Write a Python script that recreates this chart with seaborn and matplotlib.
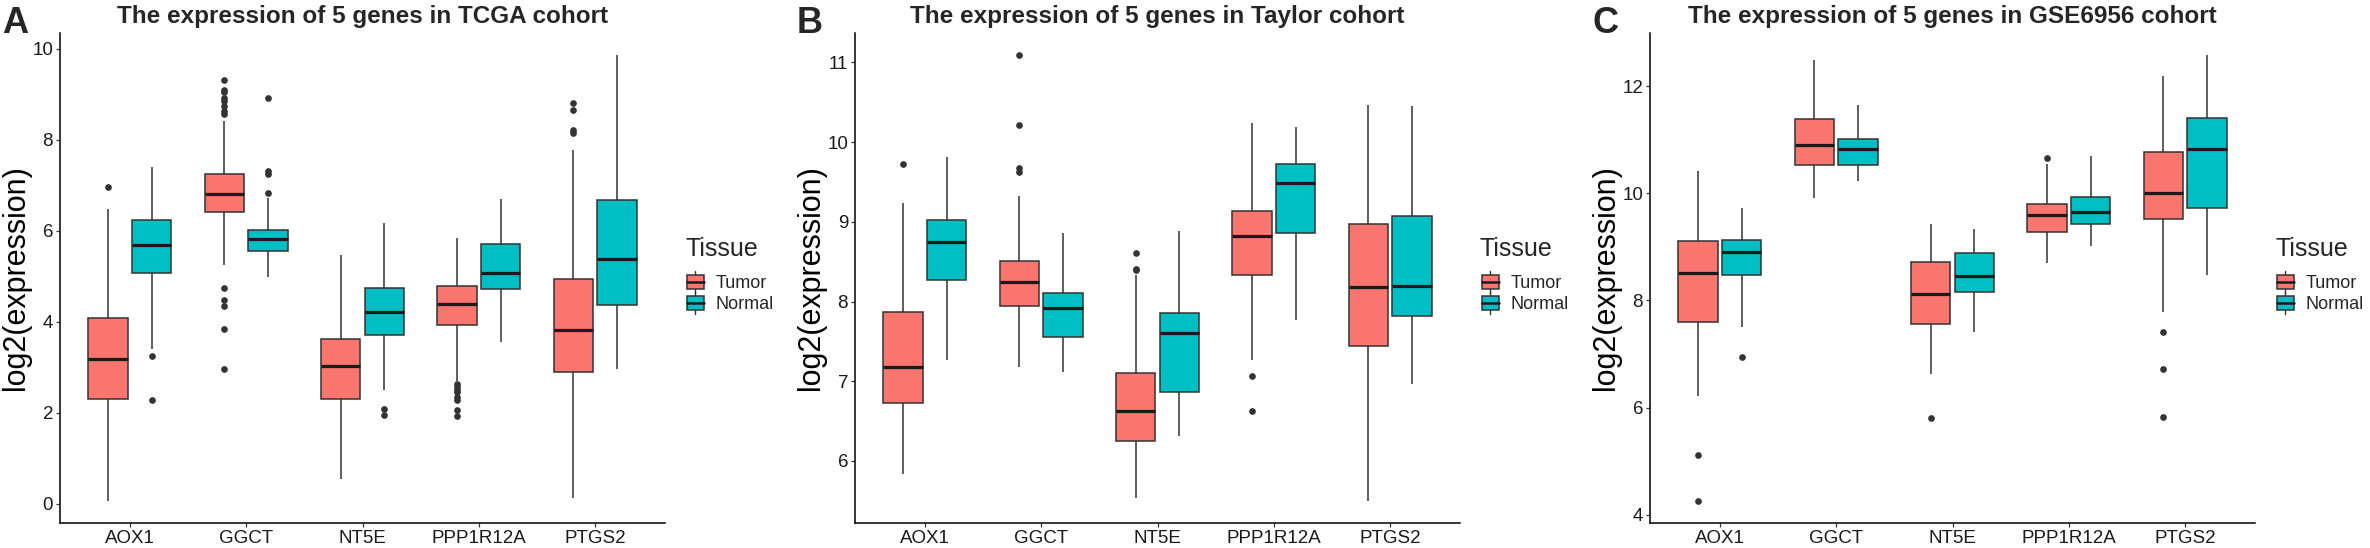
import numpy as np
import pandas as pd
import matplotlib
matplotlib.use("Agg")
import matplotlib.pyplot as plt
import seaborn as sns
from matplotlib.legend_handler import HandlerBase
from matplotlib.patches import Rectangle, Patch
from matplotlib.lines import Line2D

## Datos: [bigote inf, Q1, mediana, Q3, bigote sup] por gen

genes = ["AOX1", "GGCT", "NT5E", "PPP1R12A", "PTGS2"]
tissues = ["Tumor", "Normal"]
colors = ["#F8766D", "#00BFC4"]

titles = ["The expression of 5 genes in TCGA cohort",
          "The expression of 5 genes in Taylor cohort",
          "The expression of 5 genes in GSE6956 cohort"]
letters = ["A", "B", "C"]

tcga_tumor = [[0.07, 2.30, 3.18, 4.09, 6.48],
              [5.25, 6.41, 6.81, 7.24, 8.42],
              [0.54, 2.31, 3.03, 3.63, 5.47],
              [2.71, 3.94, 4.40, 4.79, 5.84],
              [0.14, 2.90, 3.82, 4.95, 7.77]]
tcga_tumor_out = [[6.97],
                  [9.31, 9.09, 9.05, 8.91, 8.85, 8.74, 8.63, 8.56, 4.74, 4.49, 4.35, 3.84, 2.96],
                  [],
                  [2.64, 2.58, 2.51, 2.45, 2.36, 2.29, 2.06, 1.93],
                  [8.82, 8.65, 8.21, 8.16]]
tcga_normal = [[3.40, 5.07, 5.68, 6.23, 7.40],
               [4.99, 5.55, 5.82, 6.03, 6.72],
               [2.51, 3.72, 4.22, 4.75, 6.18],
               [3.56, 4.72, 5.08, 5.72, 6.70],
               [2.96, 4.38, 5.39, 6.69, 9.86]]
tcga_normal_out = [[3.25, 2.29],
                   [6.83, 7.25, 7.32, 8.91],
                   [2.09, 1.95],
                   [],
                   []]

taylor_tumor = [[5.84, 6.73, 7.18, 7.87, 9.23],
                [7.18, 7.94, 8.24, 8.51, 9.33],
                [5.54, 6.25, 6.62, 7.10, 8.33],
                [7.26, 8.33, 8.82, 9.14, 10.24],
                [5.50, 7.44, 8.18, 8.97, 10.46]]
taylor_tumor_out = [[9.72],
                    [11.09, 10.22, 9.68, 9.63],
                    [8.61, 8.41, 8.39],
                    [7.06, 6.62],
                    []]
taylor_normal = [[7.27, 8.27, 8.75, 9.02, 9.81],
                 [7.12, 7.56, 7.92, 8.11, 8.86],
                 [6.31, 6.86, 7.60, 7.85, 8.89],
                 [7.77, 8.86, 9.49, 9.73, 10.19],
                 [6.97, 7.82, 8.19, 9.07, 10.45]]
taylor_normal_out = [[], [], [], [], []]

gse_tumor = [[6.22, 7.59, 8.51, 9.11, 10.41],
             [9.92, 10.53, 10.91, 11.39, 12.50],
             [6.63, 7.57, 8.12, 8.71, 9.43],
             [8.70, 9.28, 9.59, 9.80, 10.54],
             [7.79, 9.52, 10.01, 10.77, 12.20]]
gse_tumor_out = [[5.11, 4.26], [], [5.80], [10.66], [7.41, 6.72, 5.83]]
gse_normal = [[7.51, 8.47, 8.91, 9.13, 9.72],
              [10.23, 10.53, 10.83, 11.02, 11.65],
              [7.41, 8.16, 8.45, 8.89, 9.33],
              [9.02, 9.43, 9.66, 9.94, 10.69],
              [8.47, 9.72, 10.83, 11.40, 12.58]]
gse_normal_out = [[6.95], [], [], [], []]

yticks = [[0, 2, 4, 6, 8, 10], [6, 7, 8, 9, 10, 11], [4, 6, 8, 10, 12]]

cohorts = [(tcga_tumor, tcga_tumor_out, tcga_normal, tcga_normal_out),
           (taylor_tumor, taylor_tumor_out, taylor_normal, taylor_normal_out),
           (gse_tumor, gse_tumor_out, gse_normal, gse_normal_out)]

## Tabla larga para seaborn: cada resumen se expande en puntos que reproducen
## los cuartiles leídos (Q1, mediana y Q3 repetidos)

REP = 60

def expand(stats, outs):
    lo, q1, med, q3, hi = stats
    return [lo] + [q1] * REP + [med] * REP + [q3] * REP + [hi] + list(outs)

def build_df(tumor, tumor_out, normal, normal_out):
    rows = []
    for tissue, stats, outs in [("Tumor", tumor, tumor_out), ("Normal", normal, normal_out)]:
        for gene, s, o in zip(genes, stats, outs):
            for v in expand(s, o):
                rows.append((gene, tissue, v))
    return pd.DataFrame(rows, columns=["gene", "Tissue", "value"])

## Leyenda con un pequeño boxplot como clave

class BoxKey(HandlerBase):
    def create_artists(self, legend, orig_handle, xdescent, ydescent, width, height, fontsize, trans):
        x0, y0 = -xdescent, -ydescent
        cx = x0 + width / 2
        whisk = Line2D([cx, cx], [y0 - 0.12 * height, y0 + 1.12 * height], color="#333333", lw=1.0, transform=trans)
        box = Rectangle((x0 + 0.1 * width, y0 + 0.08 * height), 0.8 * width, 0.84 * height,
                        facecolor=orig_handle.get_facecolor(), edgecolor="#333333", lw=1.1, transform=trans)
        med = Line2D([x0 + 0.1 * width, x0 + 0.9 * width], [y0 + 0.5 * height] * 2, color="#1a1a1a", lw=1.8, transform=trans)
        return [whisk, box, med]

## Gráfico

sns.set_style("ticks")
plt.rcParams["font.family"] = ["Liberation Sans", "DejaVu Sans"]

W, H = 2370, 548
fig = plt.figure(figsize=(W / 100, H / 100), dpi=100)

lefts = [60, 855, 1650]
ax_w, ax_top, ax_bottom = 605, 33, 523

for i, (tumor, tumor_out, normal, normal_out) in enumerate(cohorts):
    ax = fig.add_axes([lefts[i] / W, (H - ax_bottom) / H, ax_w / W, (ax_bottom - ax_top) / H])
    df = build_df(tumor, tumor_out, normal, normal_out)

    sns.boxplot(data=df, x="gene", y="value", hue="Tissue", order=genes, hue_order=tissues,
                palette=colors, saturation=1, width=0.75, gap=0.1, linewidth=1.1,
                linecolor="#333333", showcaps=False, fliersize=3.8,
                flierprops=dict(marker="o", markerfacecolor="#333333", markeredgecolor="#333333"),
                medianprops=dict(linewidth=2.3, color="#1a1a1a"),
                legend=False, ax=ax)

    vmin, vmax = df["value"].min(), df["value"].max()
    pad = 0.05 * (vmax - vmin)
    ax.set_ylim(vmin - pad, vmax + pad)
    ax.set_xlim(-0.6, 4.6)
    ax.set_yticks(yticks[i])

    sns.despine(ax=ax)
    for side in ["left", "bottom"]:
        ax.spines[side].set_linewidth(1.1)
        ax.spines[side].set_color("black")
    ax.tick_params(length=3, width=0.9, color="#333333", labelsize=13.5, labelcolor="#1a1a1a", pad=2)

    ax.set_xlabel("")
    ax.set_ylabel("log2(expression)", fontsize=22, color="black")
    ax.yaxis.set_label_coords(-29 / ax_w, 0.5)
    ax.set_title(titles[i], fontsize=17.5, fontweight="bold", pad=7.5)

    fig.text((lefts[i] - 58) / W, (H - 33) / H, letters[i], fontsize=26, fontweight="bold", va="baseline")

    handles = [Patch(facecolor=c) for c in colors]
    leg = fig.legend(handles, tissues, title="Tissue", loc="center left",
                     bbox_to_anchor=((lefts[i] + ax_w + 20) / W, (H - 275) / H),
                     frameon=False, fontsize=13, title_fontsize=18, borderpad=0, borderaxespad=0,
                     handlelength=1.15, handleheight=1.1, handletextpad=0.55, labelspacing=0.1,
                     alignment="left", handler_map={Patch: BoxKey()})
    # separación extra entre el título "Tissue" y las entradas
    leg._legend_box.sep = 9

plt.savefig("out.png", dpi=100)
